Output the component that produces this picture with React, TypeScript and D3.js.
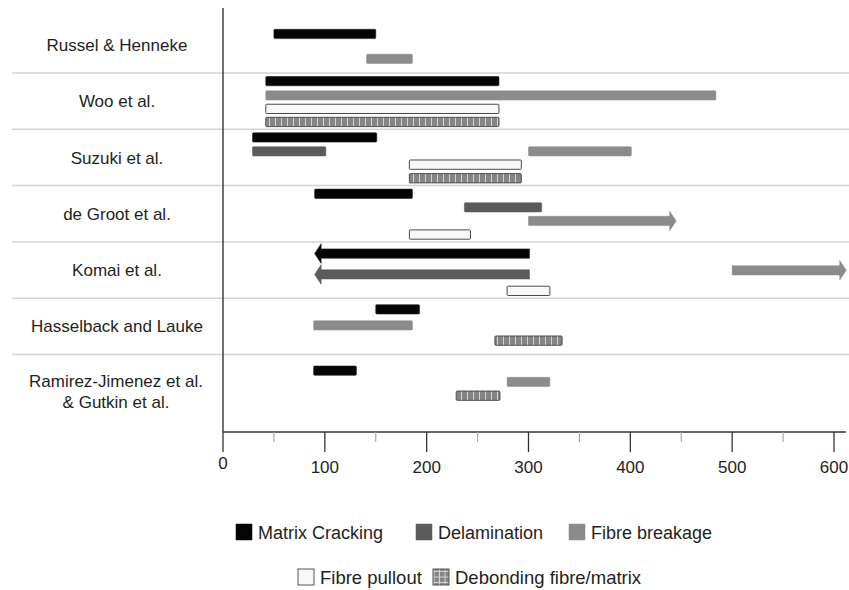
import React from "react";
import * as d3 from "d3";

const studies = [
  "Russel & Henneke",
  "Woo et al.",
  "Suzuki et al.",
  "de Groot et al.",
  "Komai et al.",
  "Hasselback and Lauke",
  "Ramirez-Jimenez et al.|& Gutkin et al.",
];

type Bar = { row: number; start: number; end: number; lane: number; arrow?: "left" | "right" };

const matrixCracking: Bar[] = [
  { row: 0, start: 50, end: 150, lane: 0.67 },
  { row: 1, start: 42, end: 271, lane: 0 },
  { row: 2, start: 29, end: 151, lane: 0 },
  { row: 3, start: 90, end: 186, lane: 0 },
  { row: 4, start: 90, end: 301, lane: 0.26, arrow: "left" },
  { row: 5, start: 150, end: 193, lane: 0.22 },
  { row: 6, start: 89, end: 131, lane: 0.59 },
];
const delamination: Bar[] = [
  { row: 2, start: 29, end: 101, lane: 1.02 },
  { row: 3, start: 237, end: 313, lane: 1.0 },
  { row: 4, start: 90, end: 301, lane: 1.79, arrow: "left" },
];
const fibreBreakage: Bar[] = [
  { row: 0, start: 141, end: 186, lane: 2.5 },
  { row: 1, start: 42, end: 484, lane: 1.05 },
  { row: 2, start: 300, end: 401, lane: 1.02 },
  { row: 3, start: 300, end: 445, lane: 2.0, arrow: "right" },
  { row: 4, start: 500, end: 612, lane: 1.49, arrow: "right" },
  { row: 5, start: 89, end: 186, lane: 1.4 },
  { row: 6, start: 279, end: 321, lane: 1.42 },
];
const fibrePullout: Bar[] = [
  { row: 1, start: 42, end: 271, lane: 2.04 },
  { row: 2, start: 183, end: 293, lane: 2.0 },
  { row: 3, start: 183, end: 243, lane: 3.0 },
  { row: 4, start: 279, end: 321, lane: 3.0 },
];
const debonding: Bar[] = [
  { row: 1, start: 42, end: 271, lane: 3.0 },
  { row: 2, start: 183, end: 293, lane: 3.0 },
  { row: 5, start: 267, end: 333, lane: 2.52 },
  { row: 6, start: 229, end: 272, lane: 2.43 },
];

const majorTicks = [0, 100, 200, 300, 400, 500, 600];
const minorTicks = [50, 150, 250, 350, 450, 550];

const legendLabels = ["Matrix Cracking", "Delamination", "Fibre breakage", "Fibre pullout", "Debonding fibre/matrix"];

const W = 849;
const H = 590;
const FONT = "'Liberation Sans', Arial, sans-serif";
const TEXT = "#231f20";

export default function App() {
  const x = d3.scaleLinear().domain([0, 600]).range([223, 834]);
  const yRow = d3.scaleLinear().domain([0, 7]).range([16.7, 16.7 + 7 * 56.3]);
  const laneOff = d3.scaleLinear().domain([0, 3]).range([3.5, 3.5 + 3 * 13.6]);
  const axisY = 432;
  const barH = 9.3;

  const series = [
    { key: "mc", data: matrixCracking, fill: "#050505", stroke: "#222", sw: 0.6 },
    { key: "de", data: delamination, fill: "#5b5b5d", stroke: "#5b5b5d", sw: 0.5 },
    { key: "fb", data: fibreBreakage, fill: "#8b8b8e", stroke: "#8b8b8e", sw: 0.5 },
    { key: "fp", data: fibrePullout, fill: "#f8f8f8", stroke: "#4a4a4a", sw: 1 },
    { key: "db", data: debonding, fill: "url(#hatch)", stroke: "#444", sw: 0.9 },
  ];

  const renderBar = (b: Bar, s: any, i: number) => {
    const y0 = yRow(b.row) + laneOff(b.lane);
    const cy = y0 + barH / 2;
    if (b.arrow) {
      const headL = 6.5;
      const headH = 9.8;
      const dir = b.arrow === "left" ? 1 : -1;
      const tip = b.arrow === "left" ? x(b.start) : x(b.end);
      const tail = b.arrow === "left" ? x(b.end) : x(b.start);
      const hb = tip + dir * headL;
      const pts = [
        [tip, cy],
        [hb, cy - headH],
        [hb, y0],
        [tail, y0],
        [tail, y0 + barH],
        [hb, y0 + barH],
        [hb, cy + headH],
      ];
      return (
        <polygon
          key={s.key + i}
          points={pts.map((p) => p.join(",")).join(" ")}
          fill={s.fill}
          stroke={s.stroke}
          strokeWidth={s.sw}
        />
      );
    }
    return (
      <rect
        key={s.key + i}
        x={x(b.start)}
        y={y0}
        width={x(b.end) - x(b.start)}
        height={barH}
        rx={1}
        fill={s.fill}
        stroke={s.stroke}
        strokeWidth={s.sw}
      />
    );
  };

  const legendPos = [
    { x: 236, y: 524, fs: 18 },
    { x: 416, y: 524, fs: 18 },
    { x: 569, y: 524, fs: 18 },
    { x: 298, y: 569, fs: 18.5 },
    { x: 433, y: 569, fs: 18.5 },
  ];
  const legendFill = ["#050505", "#5b5b5d", "#8b8b8e", "#f8f8f8", "url(#hatchL)"];
  const legendStroke = ["#050505", "#5b5b5d", "#8b8b8e", "#555", "#555"];

  return (
    <svg width={W} height={H} style={{ position: "absolute", left: 0, top: 0, background: "#fff" }}>
      <defs>
        <pattern id="hatch" patternUnits="userSpaceOnUse" width={6} height={4.65} x={0} y={0}>
          <rect width={6} height={4.65} fill="#858587" />
          <line x1={5.5} y1={0} x2={5.5} y2={4.65} stroke="#d4d4d4" strokeWidth={1} />
        </pattern>
        <pattern id="hatchL" patternUnits="userSpaceOnUse" width={5.5} height={5.5} x={0} y={0}>
          <rect width={5.5} height={5.5} fill="#858587" />
          <line x1={5} y1={0} x2={5} y2={5.5} stroke="#d4d4d4" strokeWidth={1} />
          <line x1={0} y1={5} x2={5.5} y2={5} stroke="#d4d4d4" strokeWidth={1} />
        </pattern>
      </defs>

      {/* row separators */}
      {d3.range(1, studies.length).map((r) => (
        <line key={"sep" + r} x1={12} x2={W} y1={yRow(r)} y2={yRow(r)} stroke="#d3d3d3" strokeWidth={1.5} />
      ))}

      {/* vertical axis */}
      <line x1={223} x2={223} y1={8} y2={axisY} stroke="#333" strokeWidth={1.4} />
      {/* x axis */}
      <line x1={223} x2={846} y1={axisY} y2={axisY} stroke="#333" strokeWidth={1.4} />
      {majorTicks.map((t) => (
        <g key={"mt" + t}>
          <line x1={x(t)} x2={x(t)} y1={axisY} y2={axisY + 20} stroke="#333" strokeWidth={1.3} />
          <text x={x(t)} y={t === 0 ? 469 : 473} textAnchor="middle" fontFamily={FONT} fontSize={17} fill={TEXT}>
            {t}
          </text>
        </g>
      ))}
      {minorTicks.map((t) => (
        <line key={"nt" + t} x1={x(t)} x2={x(t)} y1={axisY} y2={axisY + 10} stroke="#aaa" strokeWidth={1.2} />
      ))}

      {/* row labels */}
      {studies.map((s, i) => {
        const lines = s.split("|");
        const cy = yRow(i) + 28.2;
        if (lines.length === 1) {
          return (
            <text key={"lab" + i} x={117} y={cy + 6} textAnchor="middle" fontFamily={FONT} fontSize={17} fill={TEXT}>
              {s}
            </text>
          );
        }
        return (
          <text key={"lab" + i} x={116} y={0} textAnchor="middle" fontFamily={FONT} fontSize={17} fill={TEXT}>
            <tspan x={116} y={cy + 4.5}>{lines[0]}</tspan>
            <tspan x={116} y={cy + 25}>{lines[1]}</tspan>
          </text>
        );
      })}

      {/* bars */}
      {series.map((s) => s.data.map((b, i) => renderBar(b, s, i)))}

      {/* legend */}
      {legendLabels.map((l, i) => (
        <g key={"lg" + i}>
          <rect
            x={legendPos[i].x}
            y={legendPos[i].y}
            width={16}
            height={16}
            fill={legendFill[i]}
            stroke={legendStroke[i]}
            strokeWidth={i >= 3 ? 1 : 0.5}
          />
          <text
            x={legendPos[i].x + 22}
            y={legendPos[i].y + 15}
            fontFamily={FONT}
            fontSize={legendPos[i].fs}
            fill={TEXT}
          >
            {l}
          </text>
        </g>
      ))}
    </svg>
  );
}
